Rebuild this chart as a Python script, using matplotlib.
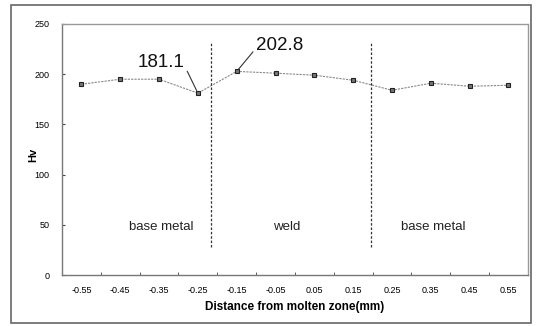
import numpy as np
import matplotlib.pyplot as plt
from matplotlib.patches import Rectangle

plt.rcParams['font.family'] = ['Liberation Sans', 'DejaVu Sans']

positions = ["-0.55", "-0.45", "-0.35", "-0.25", "-0.15", "-0.05",
             "0.05", "0.15", "0.25", "0.35", "0.45", "0.55"]
hv = [190, 195, 195, 181.1, 202.8, 201, 199, 194, 184, 191, 188, 189]
zones = ["base metal", "weld", "base metal"]
zone_x = [2.05, 5.3, 9.05]
boundaries = [3.35, 7.45]

fig = plt.figure(figsize=(5.37, 3.26), dpi=100)
ax = fig.add_axes([0.1155, 0.1564, 0.8675, 0.77])

x = np.arange(len(hv))
ax.plot(x, hv, color='#888888', lw=0.8, ls=(0, (2, 1)),
        marker='s', ms=3.5, mfc='#777777', mec='#222222', mew=0.8)

for b in boundaries:
    ax.plot([b, b], [28, 231], color='#333333', lw=0.9, ls=(0, (2, 1.5)))

for zx, z in zip(zone_x, zones):
    ax.text(zx, 48, z, ha='center', va='center', fontsize=9.5, color='#222222')

ax.annotate("181.1", xy=(3, 181.1), xytext=(2.05, 212), fontsize=13.5,
            ha='center', va='center', color='#111111',
            arrowprops=dict(arrowstyle='-', color='#333333', lw=0.8,
                            shrinkA=0, shrinkB=2, relpos=(1.0, 0.3)))
ax.annotate("202.8", xy=(4, 202.8), xytext=(5.1, 229), fontsize=13.5,
            ha='center', va='center', color='#111111',
            arrowprops=dict(arrowstyle='-', color='#333333', lw=0.8,
                            shrinkA=0, shrinkB=2, relpos=(0.0, 0.3)))

ax.set_xlim(-0.5, 11.5)
ax.set_ylim(0, 250)
ax.set_xticks(x)
ax.set_xticklabels(positions)
ax.set_xticks(np.arange(0.5, 11.5, 1), minor=True)
ax.tick_params(axis='x', which='major', length=0, labelsize=6.5, pad=8)
ax.tick_params(axis='x', which='minor', direction='in', length=2.5, color='#444444')
ax.set_yticks([0, 50, 100, 150, 200, 250])
ax.tick_params(axis='y', direction='in', length=2.5, labelsize=6.5, pad=9, color='#444444')

for s in ['left', 'bottom']:
    ax.spines[s].set_color('#777777')
    ax.spines[s].set_linewidth(1.0)
for s in ['top', 'right']:
    ax.spines[s].set_color('#999999')
    ax.spines[s].set_linewidth(1.0)
    ax.spines[s].set_linestyle((0, (1, 1)))

ax.set_xlabel("Distance from molten zone(mm)", fontsize=8.5, fontweight='bold', labelpad=4)
ax.set_ylabel("Hv", fontsize=8, fontweight='bold')
ax.yaxis.set_label_coords(-0.05, 0.48)

fig.patches.append(Rectangle((0.0205, 0.0092), 0.9683, 0.9755, transform=fig.transFigure,
                             fill=False, edgecolor='#666666', lw=1.2))

fig.savefig("out.png", dpi=100)
